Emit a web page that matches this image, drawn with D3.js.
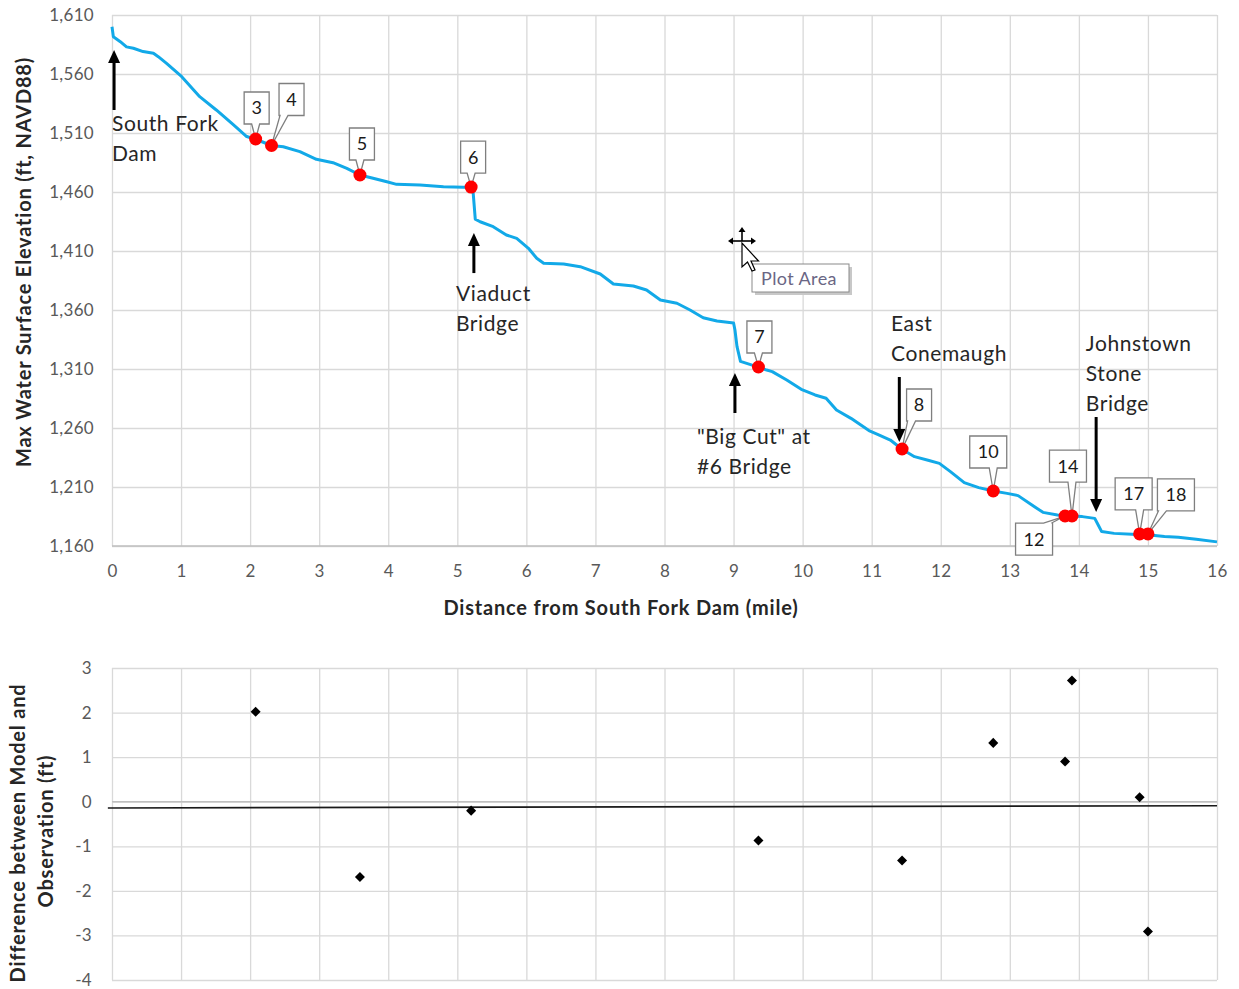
<!DOCTYPE html>
<html>
<head>
<meta charset="utf-8">
<script src="https://cdn.jsdelivr.net/npm/d3@7"></script>
<style>
  body { margin: 0; background: #fff; }
  svg { display: block; font-family: Lato, "Open Sans", sans-serif; }
</style>
</head>
<body>
<div id="chart"></div>
<script>
'use strict';

// water surface profile along the river (mile, ft)
const profileMiles = [0, 0.02, 0.12, 0.21, 0.31, 0.45, 0.6, 0.67, 0.79, 1.01, 1.27, 1.51, 1.76, 1.95, 2.08, 2.31,
  2.48, 2.72, 2.96, 3.2, 3.4, 3.59, 3.78, 3.98, 4.12, 4.46, 4.8, 5.09, 5.2, 5.23, 5.26, 5.33, 5.52, 5.71, 5.86,
  6.03, 6.15, 6.25, 6.54, 6.78, 7.07, 7.26, 7.55, 7.74, 7.94, 8.18, 8.37, 8.56, 8.76, 9.0, 9.02, 9.05, 9.1, 9.19,
  9.36, 9.48, 9.56, 9.77, 9.98, 10.18, 10.34, 10.49, 10.7, 10.96, 11.11, 11.27, 11.44, 11.62, 11.83, 11.98, 12.14,
  12.34, 12.55, 12.76, 12.96, 13.12, 13.32, 13.48, 13.69, 13.85, 14.05, 14.23, 14.28, 14.33, 14.51, 14.77, 14.99,
  15.24, 15.44, 15.7, 16.0];
const profileElev = [1600, 1591.5, 1587.4, 1583, 1581.8, 1579, 1577.5, 1574.7, 1569, 1557.7, 1540.8, 1529.5, 1516.8,
  1507, 1504.7, 1499.4, 1498.4, 1494.2, 1487.7, 1484.8, 1480, 1474.4, 1471.6, 1468.7, 1466.5, 1465.9, 1464.5, 1464,
  1464, 1459, 1437, 1434.8, 1430.6, 1423.6, 1420.7, 1412.3, 1403.8, 1399.6, 1399, 1396.7, 1390.5, 1382, 1380.3,
  1377, 1368.5, 1365.7, 1360, 1353.5, 1350.7, 1349, 1343, 1329, 1316.5, 1314.8, 1311.6, 1309.1, 1307.8, 1300.7,
  1292.8, 1288, 1285.2, 1275.2, 1268.2, 1257.8, 1254, 1249.8, 1242, 1235.7, 1232.4, 1230, 1223, 1213.7, 1209.5,
  1206.6, 1204.6, 1202.7, 1194.7, 1188.5, 1186.3, 1185.5, 1184.9, 1183.4, 1177.8, 1172.2, 1170.7, 1169.9, 1169.5,
  1168, 1167.4, 1165.7, 1163.5];

// observation stations
const stationIds = [3, 4, 5, 6, 7, 8, 10, 12, 14, 17, 18];
const stationMiles = [2.08, 2.31, 3.59, 5.2, 9.36, 11.44, 12.76, 13.8, 13.9, 14.88, 15.0];
const stationElev = [1504.9, 1499.4, 1474.4, 1464.2, 1311.7, 1242.2, 1206.6, 1185.4, 1185.4, 1170.2, 1170.2];

// model minus observation (ft)
const diffIds = [3, 5, 6, 7, 8, 10, 12, 14, 17, 18];
const diffValues = [2.02, -1.69, -0.2, -0.87, -1.32, 1.32, 0.9, 2.72, 0.1, -2.91];
const trendMiles = [-0.06, 16];
const trendValues = [-0.14, -0.09];

const elevTicks = [1160, 1210, 1260, 1310, 1360, 1410, 1460, 1510, 1560, 1610];
const mileTicks = d3.range(0, 17);
const diffTicks = [-4, -3, -2, -1, 0, 1, 2, 3];

// annotation layout
const notes = [
  { lines: ['South Fork', 'Dam'], mile: 0, elev: 1517.6 },
  { lines: ['Viaduct', 'Bridge'], mile: 4.98, elev: 1373.6 },
  { lines: ['"Big Cut" at', '#6 Bridge'], mile: 8.47, elev: 1252.4 },
  { lines: ['East', 'Conemaugh'], mile: 11.28, elev: 1348.1 },
  { lines: ['Johnstown', 'Stone', 'Bridge'], mile: 14.1, elev: 1331.2 }
];
const arrows = [
  { mile: 0.03, from: 1529.5, to: 1580.3 },
  { mile: 5.24, from: 1391.3, to: 1425.2 },
  { mile: 9.02, from: 1272.7, to: 1306.6 },
  { mile: 11.4, from: 1303.2, to: 1248.1 },
  { mile: 14.25, from: 1269.3, to: 1188.8 }
];
const callouts = [
  { id: 3, dx: 1, dy: -31 }, { id: 4, dx: 20, dy: -46 }, { id: 5, dx: 2, dy: -31 },
  { id: 6, dx: 2, dy: -30 }, { id: 7, dx: 1, dy: -30 }, { id: 8, dx: 17, dy: -44 },
  { id: 10, dx: -5, dy: -39 }, { id: 12, dx: -31, dy: 23 }, { id: 14, dx: -4, dy: -50 },
  { id: 17, dx: -6, dy: -40 }, { id: 18, dx: 28, dy: -39 }
];

const W = 1239, H = 989;
const left = 112, right = 1217;
const top1 = 15, bottom1 = 546;
const top2 = 668, bottom2 = 980;
const grid = '#d9d9d9';
const tickColor = '#595959';
const textColor = '#262626';

const svg = d3.select('#chart')
  .append('svg')
    .attr('width', W)
    .attr('height', H);

const x = d3.scaleLinear().domain([0, 16]).range([left, right]);
const y = d3.scaleLinear().domain([1160, 1610]).range([bottom1, top1]);
const y2 = d3.scaleLinear().domain([-4, 3]).range([bottom2, top2]);

function styleAxis(g) {
  g.select('.domain').remove();
  g.selectAll('.tick line').attr('stroke', grid).attr('stroke-width', 1.3);
  g.selectAll('.tick text')
      .attr('fill', tickColor)
      .style('font-size', '17px')
      .style('letter-spacing', '0.3px')
      .style('font-family', 'Lato, sans-serif');
}

function title(g, text, tx, ty, rotate) {
  g.append('text')
      .attr('transform', `translate(${tx},${ty})` + (rotate ? ' rotate(-90)' : ''))
      .attr('text-anchor', 'middle')
      .attr('dy', '0.35em')
      .attr('fill', textColor)
      .style('font-size', '20px')
      .style('font-weight', 'bold')
      .style('letter-spacing', '0.8px')
      .text(text);
}

// ---------- top chart ----------
const topG = svg.append('g');

topG.append('g')
    .attr('transform', `translate(${left},0)`)
    .call(d3.axisLeft(y).tickValues(elevTicks).tickFormat(d3.format(',')).tickSize(-(right - left)).tickPadding(18))
    .call(styleAxis);

topG.append('g')
    .attr('transform', `translate(0,${bottom1})`)
    .call(d3.axisBottom(x).tickValues(mileTicks).tickSize(-(bottom1 - top1)).tickPadding(19))
    .call(styleAxis);

topG.append('line')
    .attr('x1', left).attr('x2', right)
    .attr('y1', y(1160)).attr('y2', y(1160))
    .attr('stroke', '#bfbfbf')
    .attr('stroke-width', 1.5);

const profile = profileMiles.map((m, i) => [m, profileElev[i]]);
topG.append('path')
    .datum(profile)
    .attr('fill', 'none')
    .attr('stroke', '#12a9e8')
    .attr('stroke-width', 3)
    .attr('stroke-linejoin', 'round')
    .attr('d', d3.line().x(d => x(d[0])).y(d => y(d[1])));

// arrows
const arrowG = topG.append('g');
arrows.forEach(a => {
  const x0 = x(a.mile), yFrom = y(a.from), yTo = y(a.to);
  const dir = yTo < yFrom ? 1 : -1;
  arrowG.append('line')
      .attr('x1', x0).attr('x2', x0)
      .attr('y1', yFrom).attr('y2', yTo + dir * 10)
      .attr('stroke', '#000')
      .attr('stroke-width', 3);
  arrowG.append('path')
      .attr('d', `M${x0},${yTo} L${x0 - 6},${yTo + dir * 13} L${x0 + 6},${yTo + dir * 13} Z`)
      .attr('fill', '#000');
});

// text notes
notes.forEach(n => {
  const t = topG.append('text')
      .attr('x', x(n.mile))
      .attr('y', y(n.elev))
      .attr('fill', textColor)
      .style('font-size', '21px')
      .style('letter-spacing', '0.6px');
  n.lines.forEach((l, i) => {
    t.append('tspan')
        .attr('x', x(n.mile))
        .attr('y', y(n.elev) + i * 30)
        .attr('dy', '0.35em')
        .text(l);
  });
});

// callouts
const stationById = new Map(stationIds.map((id, i) => [id, { mile: stationMiles[i], elev: stationElev[i] }]));
const calloutG = topG.append('g');
callouts.forEach(c => {
  const s = stationById.get(c.id);
  const tx = x(s.mile), ty = y(s.elev);
  const label = String(c.id);
  const w = label.length > 1 ? 37 : 25, h = 32;
  const cx = tx + c.dx, cy = ty + c.dy;
  const x0 = cx - w / 2, x1 = cx + w / 2, y0 = cy - h / 2, y1 = cy + h / 2;
  const bx = Math.max(x0 + 5, Math.min(x1 - 5, tx));
  let d;
  if (ty > y1) {
    d = `M${x0},${y0} H${x1} V${y1} H${bx + 4} L${tx},${ty} L${bx - 4},${y1} H${x0} Z`;
  } else {
    d = `M${x0},${y0} H${bx - 4} L${tx},${ty} L${bx + 4},${y0} H${x1} V${y1} H${x0} Z`;
  }
  calloutG.append('path')
      .attr('d', d)
      .attr('fill', '#fff')
      .attr('stroke', '#7f7f7f')
      .attr('stroke-width', 1.3);
  calloutG.append('text')
      .attr('x', cx)
      .attr('y', cy)
      .attr('dy', '0.36em')
      .attr('text-anchor', 'middle')
      .attr('fill', '#1a1a1a')
      .style('font-size', '18px')
      .text(label);
});

topG.append('g')
  .selectAll('circle')
  .data(stationIds)
  .join('circle')
    .attr('cx', (d, i) => x(stationMiles[i]))
    .attr('cy', (d, i) => y(stationElev[i]))
    .attr('r', 6.5)
    .attr('fill', '#ff0000');

title(topG, 'Max Water Surface Elevation (ft, NAVD88)', 24, 262, true);
title(topG, 'Distance from South Fork Dam (mile)', 621, 608, false);

// "Plot Area" tooltip and cursor left in the screenshot
const tip = topG.append('g');
tip.append('rect')
    .attr('x', 755).attr('y', 267).attr('width', 97).attr('height', 28)
    .attr('fill', '#c8c8c8');
tip.append('rect')
    .attr('x', 752).attr('y', 264).attr('width', 97).attr('height', 28)
    .attr('fill', '#fff')
    .attr('stroke', '#8a8a8a');
tip.append('text')
    .attr('x', 761).attr('y', 279)
    .attr('dy', '0.35em')
    .attr('fill', '#6a6684')
    .style('font-size', '18px')
    .style('letter-spacing', '0.4px')
    .text('Plot Area');
const cur = tip.append('g').attr('transform', 'translate(742,241)');
[[0, -1], [-1, 0], [1, 0]].forEach(([ux, uy]) => {
  cur.append('line')
      .attr('x1', 0).attr('y1', 0)
      .attr('x2', ux * 10).attr('y2', uy * 10)
      .attr('stroke', '#000').attr('stroke-width', 1.6);
  cur.append('path')
      .attr('d', uy ? 'M0,-14 L-3.5,-9 L3.5,-9 Z' : `M${ux * 14},0 L${ux * 9},-3.5 L${ux * 9},3.5 Z`)
      .attr('fill', '#000');
});
cur.append('path')
    .attr('d', 'M0,2 L0,26 L5.5,21 L10,30 L13,29 L9,20 L16.5,20 Z')
    .attr('fill', '#fff')
    .attr('stroke', '#000')
    .attr('stroke-width', 1.2);

// ---------- bottom chart ----------
const botG = svg.append('g');

botG.append('g')
    .attr('transform', `translate(${left},0)`)
    .call(d3.axisLeft(y2).tickValues(diffTicks).tickFormat(d => String(d)).tickSize(-(right - left)).tickPadding(20))
    .call(styleAxis);

botG.append('g')
    .attr('transform', `translate(0,${bottom2})`)
    .call(d3.axisBottom(x).tickValues(mileTicks).tickSize(-(bottom2 - top2)).tickFormat(''))
    .call(styleAxis);

botG.append('line')
    .attr('x1', left).attr('x2', right)
    .attr('y1', y2(0)).attr('y2', y2(0))
    .attr('stroke', '#bfbfbf')
    .attr('stroke-width', 1.5);

botG.append('line')
    .attr('x1', x(trendMiles[0])).attr('x2', x(trendMiles[1]))
    .attr('y1', y2(trendValues[0])).attr('y2', y2(trendValues[1]))
    .attr('stroke', '#1a1a1a')
    .attr('stroke-width', 1.6);

botG.append('g')
  .selectAll('path')
  .data(diffIds)
  .join('path')
    .attr('transform', (d, i) => `translate(${x(stationById.get(d).mile)},${y2(diffValues[i])})`)
    .attr('d', d3.symbol(d3.symbolDiamond2, 64))
    .attr('fill', '#000');

title(botG, 'Difference between Model and', 18, 833, true);
title(botG, 'Observation (ft)', 46, 831, true);
</script>
</body>
</html>
